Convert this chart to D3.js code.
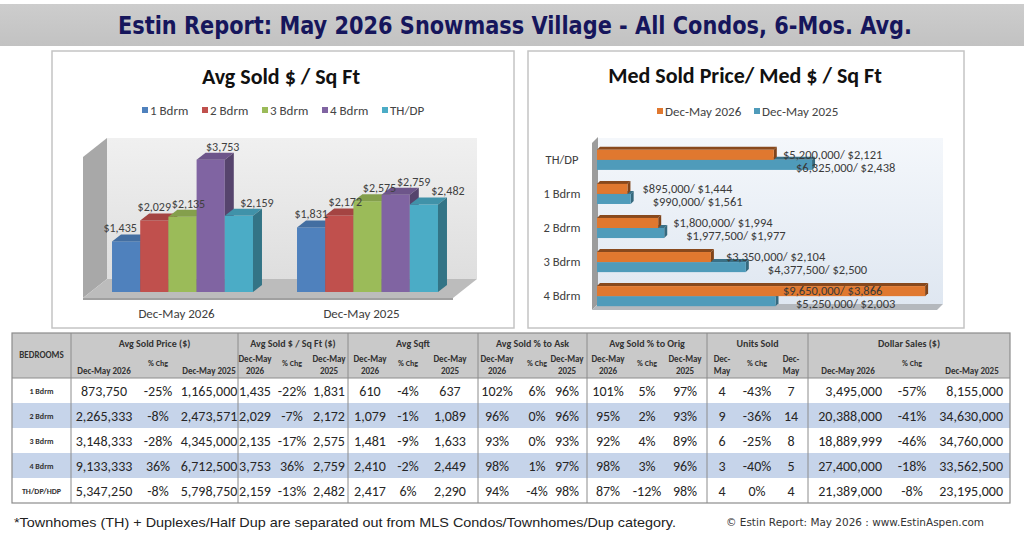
<!DOCTYPE html>
<html>
<head>
<meta charset="utf-8">
<script src="https://cdn.jsdelivr.net/npm/d3@7"></script>
<style>
  body { margin: 0; background: #fff; }
  svg { display: block; font-family: Carlito, "Liberation Sans", Arial, sans-serif; }
</style>
</head>
<body>
<script>
// ---- data ----
var bedrooms = ['1 Bdrm', '2 Bdrm', '3 Bdrm', '4 Bdrm', 'TH/DP/HDP']
var avgPrice26 = [873750, 2265333, 3148333, 9133333, 5347250]
var avgPriceChg = ['-25%', '-8%', '-28%', '36%', '-8%']
var avgPrice25 = [1165000, 2473571, 4345000, 6712500, 5798750]
var sqftPrice26 = [1435, 2029, 2135, 3753, 2159]
var sqftPriceChg = ['-22%', '-7%', '-17%', '36%', '-13%']
var sqftPrice25 = [1831, 2172, 2575, 2759, 2482]
var sqft26 = [610, 1079, 1481, 2410, 2417]
var sqftChg = ['-4%', '-1%', '-9%', '-2%', '6%']
var sqft25 = [637, 1089, 1633, 2449, 2290]
var askPct26 = ['102%', '96%', '93%', '98%', '94%']
var askChg = ['6%', '0%', '0%', '1%', '-4%']
var askPct25 = ['96%', '96%', '93%', '97%', '98%']
var origPct26 = ['101%', '95%', '92%', '98%', '87%']
var origChg = ['5%', '2%', '4%', '3%', '-12%']
var origPct25 = ['97%', '93%', '89%', '96%', '98%']
var units26 = [4, 9, 6, 3, 4]
var unitsChg = ['-43%', '-36%', '-25%', '-40%', '0%']
var units25 = [7, 14, 8, 5, 4]
var dollar26 = [3495000, 20388000, 18889999, 27400000, 21389000]
var dollarChg = ['-57%', '-41%', '-46%', '-18%', '-8%']
var dollar25 = [8155000, 34630000, 34760000, 33562500, 23195000]

// left chart
var periods = ['Dec-May 2026', 'Dec-May 2025']
var sqftSeries = ['1 Bdrm', '2 Bdrm', '3 Bdrm', '4 Bdrm', 'TH/DP']
var sqftColors = ['#4f81bd', '#c0504d', '#9bbb59', '#8064a2', '#4bacc6']

// right chart (median)
var medCats = ['TH/DP', '1 Bdrm', '2 Bdrm', '3 Bdrm', '4 Bdrm']
var medPrice26 = [5200000, 895000, 1800000, 3350000, 9650000]
var medSqft26 = [2121, 1444, 1994, 2104, 3866]
var medPrice25 = [6325000, 990000, 1977500, 4377500, 5250000]
var medSqft25 = [2438, 1561, 1977, 2500, 2003]
var medColors = ['#e0782f', '#4f9bba']

var fmt = d3.format(',')

var svg = d3.select('body').append('svg').attr('width', 1024).attr('height', 538)
var defs = svg.append('defs')

function vGrad (id, c1, c2) {
  var g = defs.append('linearGradient').attr('id', id).attr('x1', 0).attr('y1', 0).attr('x2', 0).attr('y2', 1)
  g.append('stop').attr('offset', '0%').attr('stop-color', c1)
  g.append('stop').attr('offset', '100%').attr('stop-color', c2)
}
vGrad('wallL', '#f0f0f0', '#dedede')
vGrad('wallR', '#f4f7fb', '#dfe7f1')
vGrad('titleBg', '#cdcdcd', '#c2c2c2')

// ---- title bar ----
svg.append('rect').attr('x', 0).attr('y', 4).attr('width', 1024).attr('height', 42).attr('fill', 'url(#titleBg)')
svg.append('text')
  .attr('x', 515).attr('y', 34)
  .attr('text-anchor', 'middle')
  .attr('textLength', 794).attr('lengthAdjust', 'spacingAndGlyphs')
  .style('font-family', '"DejaVu Sans Condensed", "Liberation Sans", sans-serif')
  .style('font-weight', 'bold').style('font-size', '25px')
  .attr('fill', '#16165c')
  .text('Estin Report:  May 2026 Snowmass Village - All Condos,  6-Mos. Avg.')

// ---- panels ----
svg.append('rect').attr('x', 52).attr('y', 51).attr('width', 462).attr('height', 277)
  .attr('fill', '#fff').attr('stroke', '#c4c4c4').attr('stroke-width', 1.5)
svg.append('rect').attr('x', 528).attr('y', 51).attr('width', 436).attr('height', 277)
  .attr('fill', '#fff').attr('stroke', '#c4c4c4').attr('stroke-width', 1.5)

function poly (g, pts, fill) {
  g.append('polygon').attr('points', pts.map(p => p.join(',')).join(' ')).attr('fill', fill)
}

// ================= left chart: Avg Sold $ / Sq Ft =================
var gl = svg.append('g')
gl.append('text').attr('x', 281).attr('y', 84).attr('text-anchor', 'middle')
  .style('font-weight', 'bold').style('font-size', '22px').attr('fill', '#111')
  .text('Avg Sold $ / Sq Ft')

sqftSeries.forEach(function (s, i) {
  var lx = 142 + i * 60
  gl.append('rect').attr('x', lx).attr('y', 107).attr('width', 6).attr('height', 6).attr('fill', sqftColors[i])
  gl.append('text').attr('x', lx + 8).attr('y', 114.5).style('font-size', '13px').attr('fill', '#444').text(s)
})

// walls
var depthX = 24, depthY = -19
var floorFront = 298, wallLeft = 83, wallRight = 453, wallTop = 157
poly(gl, [[wallLeft, wallTop], [wallLeft + depthX, wallTop + depthY], [wallLeft + depthX, floorFront + depthY], [wallLeft, floorFront]], '#a8a8a8')
gl.append('rect').attr('x', wallLeft + depthX).attr('y', wallTop + depthY)
  .attr('width', wallRight - wallLeft).attr('height', floorFront - wallTop)
  .attr('fill', 'url(#wallL)')
poly(gl, [[wallLeft, floorFront], [wallLeft + depthX, floorFront + depthY], [wallRight + depthX, floorFront + depthY], [wallRight, floorFront]], '#bcbcbc')
gl.append('rect').attr('x', wallLeft).attr('y', floorFront).attr('width', wallRight - wallLeft).attr('height', 2).attr('fill', '#a0a0a0')

var xl = d3.scaleBand().domain(periods).range([90, 460]).paddingInner(0.238).paddingOuter(0.119)
var xs = d3.scaleBand().domain(sqftSeries).range([0, xl.bandwidth()])
var yl = d3.scaleLinear().domain([0, 3800]).range([292, 158])

var bdx = 9, bdy = -7
var sqftByPeriod = [sqftPrice26, sqftPrice25]
periods.forEach(function (p, pi) {
  sqftSeries.forEach(function (s, si) {
    var v = sqftByPeriod[pi][si]
    var x0 = xl(p) + xs(s), w = xs.bandwidth()
    var yt = yl(v), yb = yl(0)
    var c = d3.color(sqftColors[si])
    gl.append('rect').attr('x', x0).attr('y', yt).attr('width', w).attr('height', yb - yt).attr('fill', c)
    poly(gl, [[x0, yt], [x0 + bdx, yt + bdy], [x0 + w + bdx, yt + bdy], [x0 + w, yt]], c.darker(0.45))
    poly(gl, [[x0 + w, yt], [x0 + w + bdx, yt + bdy], [x0 + w + bdx, yb + bdy], [x0 + w, yb]], c.darker(1.1))
  })
  // value labels fan out a little to the right, as in the 3-D original
  sqftSeries.forEach(function (s, si) {
    var v = sqftByPeriod[pi][si]
    var cx = xl(p) + xs(s) + xs.bandwidth() / 2 + (si - 1) * 6 + pi * 6
    gl.append('text').attr('x', cx).attr('y', yl(v) - 9)
      .attr('text-anchor', 'middle').style('font-size', '12px').attr('fill', '#404040')
      .text('$' + fmt(v))
  })
  gl.append('text').attr('x', xl(p) + xl.bandwidth() / 2 - 6).attr('y', 318)
    .attr('text-anchor', 'middle').style('font-size', '13px').attr('fill', '#404040').text(p)
})

// ================= right chart: Med Sold Price / Med $ / Sq Ft =================
var gr = svg.append('g')
gr.append('text').attr('x', 745).attr('y', 83).attr('text-anchor', 'middle')
  .style('font-weight', 'bold').style('font-size', '22px').attr('fill', '#111')
  .text('Med Sold Price/ Med $ / Sq Ft')

periods.forEach(function (p, i) {
  var lx = 657 + i * 97
  gr.append('rect').attr('x', lx).attr('y', 108).attr('width', 6).attr('height', 6).attr('fill', medColors[i])
  gr.append('text').attr('x', lx + 8).attr('y', 115.5).style('font-size', '13px').attr('fill', '#444').text(p)
})

var xr = d3.scaleLinear().domain([0, 10000000]).range([597, 937])
var yr = d3.scaleBand().domain(medCats).range([143, 313]).paddingInner(0.41).paddingOuter(0.2)
var ys = d3.scaleBand().domain(periods).range([0, yr.bandwidth()])

// walls
gr.append('rect').attr('x', 598).attr('y', 138).attr('width', 345).attr('height', 166).attr('fill', 'url(#wallR)')
poly(gr, [[592, 143], [598, 137], [598, 304], [592, 310]], '#9c9c9c')
poly(gr, [[592, 310], [598, 304], [943, 304], [937, 310]], '#b4b8bd')

var medPrice = [medPrice26, medPrice25]
var medSqft = [medSqft26, medSqft25]
medCats.forEach(function (cat, ci) {
  gr.append('text').attr('x', 562).attr('y', yr(cat) + yr.bandwidth() / 2 + 4)
    .attr('text-anchor', 'middle').style('font-size', '12.5px').attr('fill', '#404040').text(cat)
  // draw 2025 (lower) first, 2026 on top
  for (var pi = 1; pi >= 0; pi--) {
    var p = periods[pi]
    var v = medPrice[pi][ci]
    var y0 = yr(cat) + ys(p), h = ys.bandwidth()
    var x0 = xr(0), x1 = xr(v), d = 3
    var c = d3.color(medColors[pi])
    poly(gr, [[x0, y0], [x0 + d, y0 - d], [x1 + d, y0 - d], [x1, y0]], c.darker(pi === 0 ? 1.4 : 0.9))
    poly(gr, [[x1, y0], [x1 + d, y0 - d], [x1 + d, y0 + h - d], [x1, y0 + h]], c.darker(pi === 0 ? 1.6 : 1.1))
    gr.append('rect').attr('x', x0).attr('y', y0).attr('width', x1 - x0).attr('height', h).attr('fill', c)
  }
  periods.forEach(function (p, pi) {
    var v = medPrice[pi][ci]
    var lx = Math.min(xr(v) + (pi === 0 ? 15 : 22), pi === 0 ? 783 : 796)
    var ly = yr(cat) + ys(p) + ys.bandwidth() / 2 + (pi === 0 ? 4 : 7)
    gr.append('text').attr('x', lx).attr('y', ly).style('font-size', '12.5px').attr('fill', '#3a3a3a')
      .text('$' + fmt(v) + '/ $' + fmt(medSqft[pi][ci]))
  })
})

// ================= table =================
var gt = svg.append('g')
var tLeft = 12, tRight = 1010, tTop = 333, hBottom = 378, rowH = 25
var tBottom = hBottom + rowH * bedrooms.length
var groupEdges = [71, 238, 348, 478, 587, 707, 808, 1010]
var groupNames = ['Avg Sold Price ($)', 'Avg Sold $ / Sq Ft ($)', 'Avg Sqft', 'Avg Sold % to Ask', 'Avg Sold % to Orig', 'Units Sold', 'Dollar Sales ($)']
var colX = [104, 158, 209, 255, 292, 329, 370, 408, 450, 497, 537, 567, 608, 647, 685, 722, 757, 791, 882, 912, 1003]
var colAnchor = colX.map((d, i) => (i === 18 || i === 20) ? 'end' : 'middle')
var subHeads = [
  ['Dec-May 2026'], ['% Chg'], ['Dec-May 2025'],
  ['Dec-May', '2026'], ['% Chg'], ['Dec-May', '2025'],
  ['Dec-May', '2026'], ['% Chg'], ['Dec-May', '2025'],
  ['Dec-May', '2026'], ['% Chg'], ['Dec-May', '2025'],
  ['Dec-May', '2026'], ['% Chg'], ['Dec-May', '2025'],
  ['Dec-', 'May'], ['% Chg'], ['Dec-', 'May'],
  ['Dec-May 2026'], ['% Chg'], ['Dec-May 2025']
]
var subHeadX = colX.slice()
subHeadX[18] = 848; subHeadX[20] = 972

var columns = [
  avgPrice26.map(fmt), avgPriceChg, avgPrice25.map(fmt),
  sqftPrice26.map(fmt), sqftPriceChg, sqftPrice25.map(fmt),
  sqft26.map(fmt), sqftChg, sqft25.map(fmt),
  askPct26, askChg, askPct25,
  origPct26, origChg, origPct25,
  units26.map(String), unitsChg, units25.map(String),
  dollar26.map(fmt), dollarChg, dollar25.map(fmt)
]

gt.append('rect').attr('x', tLeft).attr('y', tTop).attr('width', tRight - tLeft).attr('height', hBottom - tTop).attr('fill', '#c9c9c9')
bedrooms.forEach(function (b, ri) {
  gt.append('rect').attr('x', tLeft).attr('y', hBottom + ri * rowH).attr('width', tRight - tLeft).attr('height', rowH)
    .attr('fill', ri % 2 === 1 ? '#c6d4ea' : '#fff')
})
gt.append('line').attr('x1', tLeft).attr('x2', tRight).attr('y1', hBottom).attr('y2', hBottom).attr('stroke', '#8c8c8c')
groupEdges.slice(0, -1).forEach(function (x) {
  gt.append('line').attr('x1', x).attr('x2', x).attr('y1', tTop).attr('y2', tBottom).attr('stroke', '#8c8c8c')
})
gt.append('rect').attr('x', tLeft).attr('y', tTop).attr('width', tRight - tLeft).attr('height', tBottom - tTop)
  .attr('fill', 'none').attr('stroke', '#8c8c8c').attr('stroke-width', 1.2)

gt.append('text').attr('x', 41.5).attr('y', 358).attr('text-anchor', 'middle')
  .style('font-weight', 'bold').style('font-size', '9px').attr('fill', '#333').text('BEDROOMS')
groupNames.forEach(function (n, gi) {
  gt.append('text').attr('x', (groupEdges[gi] + groupEdges[gi + 1]) / 2).attr('y', 347)
    .attr('text-anchor', 'middle').style('font-weight', 'bold').style('font-size', '10px').attr('fill', '#333').text(n)
})
subHeads.forEach(function (lines, ci) {
  var t = gt.append('text').attr('text-anchor', 'middle').style('font-weight', 'bold')
    .style('font-size', lines[0] === '% Chg' ? '8px' : '9px').attr('fill', '#333')
  if (lines.length === 2) {
    t.append('tspan').attr('x', subHeadX[ci]).attr('y', 362).text(lines[0])
    t.append('tspan').attr('x', subHeadX[ci]).attr('y', 374).text(lines[1])
  } else {
    t.attr('x', subHeadX[ci]).attr('y', lines[0] === '% Chg' ? 366 : 374).text(lines[0])
  }
})

bedrooms.forEach(function (b, ri) {
  var cy = hBottom + ri * rowH + rowH / 2
  gt.append('text').attr('x', 41.5).attr('y', cy + 3).attr('text-anchor', 'middle')
    .style('font-weight', 'bold').style('font-size', '8px').attr('fill', '#333').text(b)
  columns.forEach(function (col, ci) {
    gt.append('text').attr('x', colX[ci]).attr('y', cy + 5).attr('text-anchor', colAnchor[ci])
      .style('font-size', '14px').attr('fill', '#262626').text(col[ri])
  })
})

// ---- footer ----
svg.append('text').attr('x', 14).attr('y', 527)
  .attr('textLength', 662).attr('lengthAdjust', 'spacingAndGlyphs')
  .style('font-family', '"Liberation Sans Narrow", "Liberation Sans", sans-serif')
  .style('font-size', '13.5px').attr('fill', '#222')
  .text('*Townhomes (TH) + Duplexes/Half Dup are separated out from MLS Condos/Townhomes/Dup category.')
svg.append('text').attr('x', 726).attr('y', 526)
  .attr('textLength', 258).attr('lengthAdjust', 'spacingAndGlyphs')
  .style('font-family', '"DejaVu Sans", sans-serif')
  .style('font-size', '10.5px').attr('fill', '#333')
  .text('© Estin Report: May 2026 : www.EstinAspen.com')
</script>
</body>
</html>
